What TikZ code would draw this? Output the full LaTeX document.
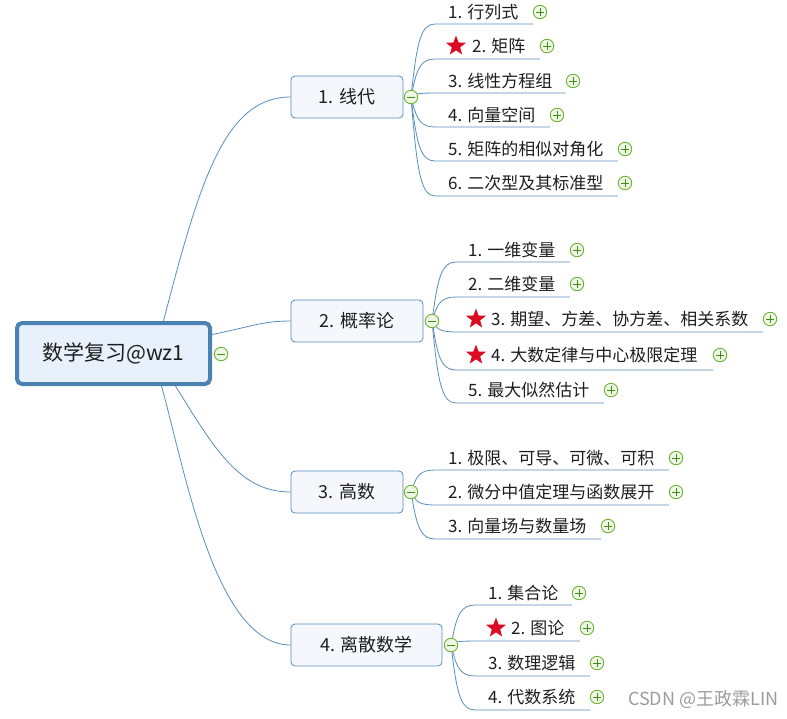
\documentclass[tikz,border=0pt]{standalone}
\usepackage{fontspec}
\setmainfont{Noto Sans CJK SC}
\usepackage{tikz}
\usetikzlibrary{shapes.geometric}

\definecolor{linkblue}{RGB}{88,140,190}
\definecolor{boxblue}{RGB}{86,140,192}
\definecolor{rootblue}{RGB}{74,130,178}
\definecolor{boxfill}{RGB}{244,248,253}
\definecolor{rootfill}{RGB}{232,241,251}
\definecolor{icongreen}{RGB}{112,178,52}
\definecolor{iconfill}{RGB}{238,246,230}
\definecolor{signgreen}{RGB}{64,140,20}
\definecolor{starred}{RGB}{220,10,35}
\definecolor{textgray}{RGB}{30,30,30}
\definecolor{markgray}{RGB}{155,155,155}

\tikzset{
    rootbox/.style={draw=rootblue, fill=rootfill, line width=4pt, rounded corners=5pt, minimum width=193pt, minimum height=61pt, font=\fontsize{21}{25}\selectfont, text=textgray},
    branchbox/.style={draw=boxblue, fill=boxfill, line width=0.8pt, rounded corners=4pt, minimum height=42pt, font=\fontsize{18}{22}\selectfont, text=textgray},
    leaftext/.style={anchor=west, inner sep=0pt, font=\fontsize{17}{20}\selectfont, text=textgray},
    link/.style={draw=linkblue, line width=0.8pt},
    iconbase/.style={circle, draw=icongreen, fill=iconfill, line width=0.9pt, minimum size=13.5pt, inner sep=0pt},
    minusicon/.style={iconbase, path picture={\draw[signgreen, line width=0.9pt] ([xshift=-3.6pt]path picture bounding box.center) -- ([xshift=3.6pt]path picture bounding box.center);}},
    plusicon/.style={iconbase, path picture={\draw[signgreen, line width=0.9pt] ([xshift=-3.6pt]path picture bounding box.center) -- ([xshift=3.6pt]path picture bounding box.center) ([yshift=-3.6pt]path picture bounding box.center) -- ([yshift=3.6pt]path picture bounding box.center);}},
    redstar/.style={star, star points=5, star point ratio=2.4, fill=starred, minimum size=21pt, inner sep=0pt},
}

\begin{document}
\begin{tikzpicture}[x=1pt, y=-1pt]
    \useasboundingbox (0,0) rectangle (787,718);

    \node[rootbox] (root) at (113.5,353.5) {数学复习@wz1};
    \node[minusicon] (m0) at (221,354) {};

    \node[branchbox, minimum width=112pt] (b1) at (347,97) {1. 线代};
    \node[branchbox, minimum width=132pt] (b2) at (357,321) {2. 概率论};
    \node[branchbox, minimum width=112pt] (b3) at (347,492) {3. 高数};
    \node[branchbox, minimum width=151pt] (b4) at (366.5,645) {4. 离散数学};
    \node[minusicon] (m1) at (411,97) {};
    \node[minusicon] (m2) at (432,321) {};
    \node[minusicon] (m3) at (411,492) {};
    \node[minusicon] (m4) at (451,645) {};

    \draw[link] ([xshift=50pt]root.north) .. controls (200,180) and (225,97) .. (b1.west);
    \draw[link] ([yshift=19pt]root.east) .. controls (250,327) and (262,321) .. (b2.west);
    \draw[link] ([xshift=62pt]root.south) .. controls (215,450) and (240,492) .. (b3.west);
    \draw[link] ([xshift=48pt]root.south) .. controls (185,470) and (215,645) .. (b4.west);

    % 1. 线代
    \node[leaftext] (l11) at (448,12) {1. 行列式};
    \node[plusicon] (p11) at (540,12) {};
    \coordinate (u11) at (435,24);
    \node[redstar] (s12) at (456,46) {};
    \node[leaftext] (l12) at (472,46) {2. 矩阵};
    \node[plusicon] (p12) at (547,46) {};
    \coordinate (u12) at (435,59);
    \node[leaftext] (l13) at (448,81) {3. 线性方程组};
    \node[plusicon] (p13) at (573,81) {};
    \coordinate (u13) at (435,93);
    \node[leaftext] (l14) at (448,115) {4. 向量空间};
    \node[plusicon] (p14) at (557,115) {};
    \coordinate (u14) at (435,127);
    \node[leaftext] (l15) at (448,149) {5. 矩阵的相似对角化};
    \node[plusicon] (p15) at (625,149) {};
    \coordinate (u15) at (435,161);
    \node[leaftext] (l16) at (448,183) {6. 二次型及其标准型};
    \node[plusicon] (p16) at (625,183) {};
    \coordinate (u16) at (435,196);

    \draw[link] (m1) .. controls +(6,-55) and +(-14,0) .. (u11) -- (p11.west |- u11);
    \draw[link] (m1) .. controls +(6,-28.5) and +(-14,0) .. (u12) -- (p12.west |- u12);
    \draw[link] (m1) .. controls +(6,-3) and +(-14,0) .. (u13) -- (p13.west |- u13);
    \draw[link] (m1) .. controls +(6,22.5) and +(-14,0) .. (u14) -- (p14.west |- u14);
    \draw[link] (m1) .. controls +(6,48) and +(-14,0) .. (u15) -- (p15.west |- u15);
    \draw[link] (m1) .. controls +(6,74) and +(-14,0) .. (u16) -- (p16.west |- u16);

    % 2. 概率论
    \node[leaftext] (l21) at (468,250) {1. 一维变量};
    \node[plusicon] (p21) at (577,250) {};
    \coordinate (u21) at (456,262);
    \node[leaftext] (l22) at (468,284) {2. 二维变量};
    \node[plusicon] (p22) at (577,284) {};
    \coordinate (u22) at (456,297);
    \node[redstar] (s23) at (476,319) {};
    \node[leaftext] (l23) at (491,319) {3. 期望、方差、协方差、相关系数};
    \node[plusicon] (p23) at (770,319) {};
    \coordinate (u23) at (456,332);
    \node[redstar] (s24) at (476,355) {};
    \node[leaftext] (l24) at (491,355) {4. 大数定律与中心极限定理};
    \node[plusicon] (p24) at (720,355) {};
    \coordinate (u24) at (456,370);
    \node[leaftext] (l25) at (468,390) {5. 最大似然估计};
    \node[plusicon] (p25) at (611,390) {};
    \coordinate (u25) at (456,403);

    \draw[link] (m2) .. controls +(6,-44) and +(-14,0) .. (u21) -- (p21.west |- u21);
    \draw[link] (m2) .. controls +(6,-18) and +(-14,0) .. (u22) -- (p22.west |- u22);
    \draw[link] (m2) .. controls +(6,8) and +(-14,0) .. (u23) -- (p23.west |- u23);
    \draw[link] (m2) .. controls +(6,37) and +(-14,0) .. (u24) -- (p24.west |- u24);
    \draw[link] (m2) .. controls +(6,61.5) and +(-14,0) .. (u25) -- (p25.west |- u25);

    % 3. 高数
    \node[leaftext] (l31) at (448,458) {1. 极限、可导、可微、可积};
    \node[plusicon] (p31) at (676,458) {};
    \coordinate (u31) at (435,470);
    \node[leaftext] (l32) at (448,492) {2. 微分中值定理与函数展开};
    \node[plusicon] (p32) at (676,492) {};
    \coordinate (u32) at (435,505);
    \node[leaftext] (l33) at (448,526) {3. 向量场与数量场};
    \node[plusicon] (p33) at (608,526) {};
    \coordinate (u33) at (435,539);

    \draw[link] (m3) .. controls +(6,-16.5) and +(-14,0) .. (u31) -- (p31.west |- u31);
    \draw[link] (m3) .. controls +(6,10) and +(-14,0) .. (u32) -- (p32.west |- u32);
    \draw[link] (m3) .. controls +(6,35) and +(-14,0) .. (u33) -- (p33.west |- u33);

    % 4. 离散数学
    \node[leaftext] (l41) at (488,593) {1. 集合论};
    \node[plusicon] (p41) at (579,593) {};
    \coordinate (u41) at (475,605);
    \node[redstar] (s42) at (496,628) {};
    \node[leaftext] (l42) at (511,628) {2. 图论};
    \node[plusicon] (p42) at (587,628) {};
    \coordinate (u42) at (475,641);
    \node[leaftext] (l43) at (488,663) {3. 数理逻辑};
    \node[plusicon] (p43) at (597,663) {};
    \coordinate (u43) at (475,676);
    \node[leaftext] (l44) at (488,697) {4. 代数系统};
    \node[plusicon] (p44) at (597,697) {};
    \coordinate (u44) at (475,710);

    \draw[link] (m4) .. controls +(6,-30) and +(-14,0) .. (u41) -- (p41.west |- u41);
    \draw[link] (m4) .. controls +(6,-3) and +(-14,0) .. (u42) -- (p42.west |- u42);
    \draw[link] (m4) .. controls +(6,23) and +(-14,0) .. (u43) -- (p43.west |- u43);
    \draw[link] (m4) .. controls +(6,49) and +(-14,0) .. (u44) -- (p44.west |- u44);

    \node[anchor=west, inner sep=0pt, text=markgray, font=\fontsize{18}{21}\selectfont] (mark) at (628,699) {CSDN @王政霖LIN};
\end{tikzpicture}
\end{document}
